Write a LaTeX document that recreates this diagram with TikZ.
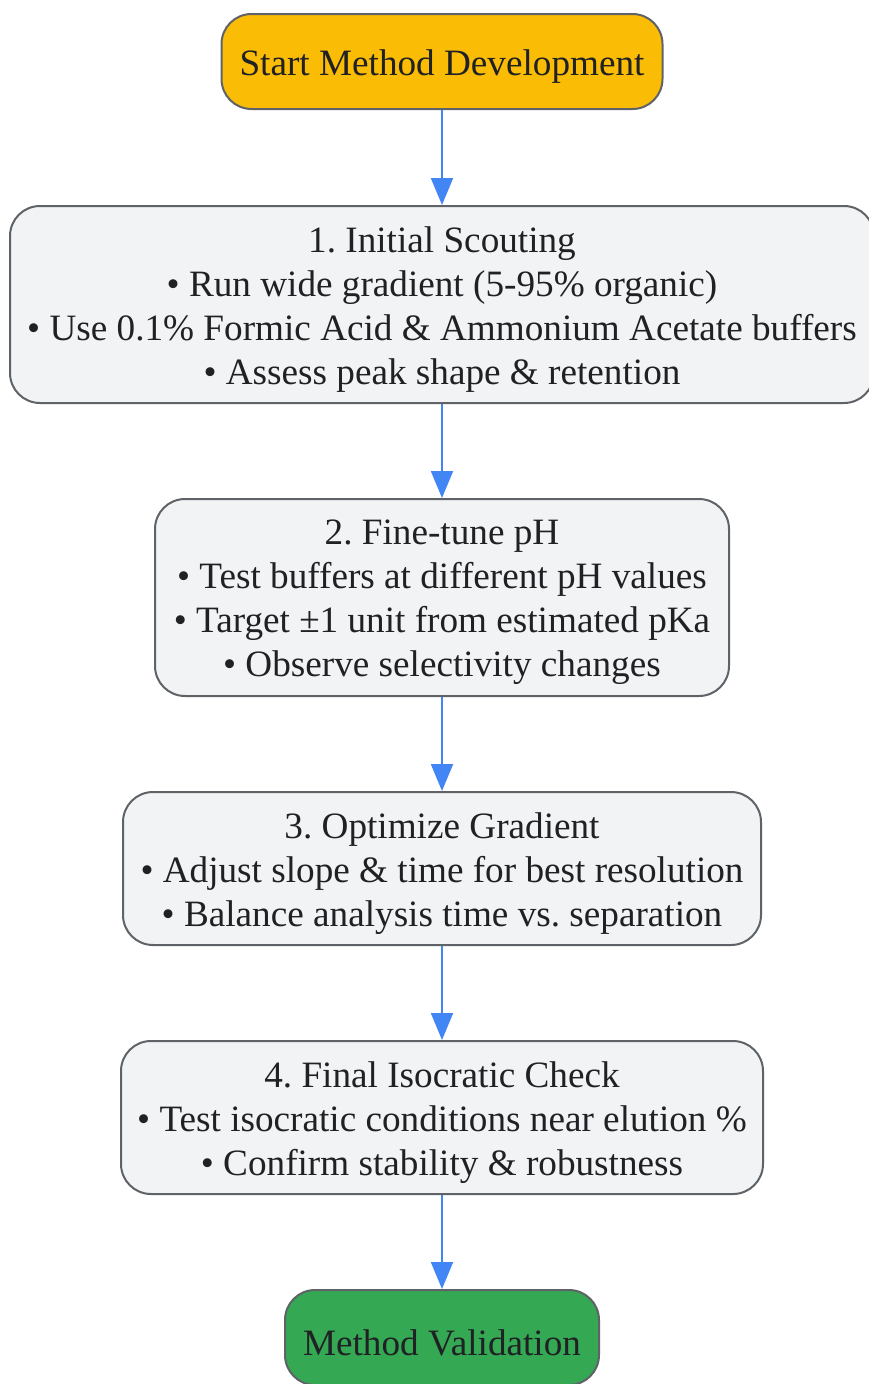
\documentclass[tikz,border=0pt]{standalone}
\usepackage{fontspec}
\setmainfont{Liberation Serif}
\usetikzlibrary{arrows.meta}
\definecolor{txt}{HTML}{202124}
\definecolor{bord}{HTML}{5F6368}
\definecolor{boxfill}{HTML}{F1F3F4}
\definecolor{startfill}{HTML}{FBBC05}
\definecolor{endfill}{HTML}{34A853}
\definecolor{arrowc}{HTML}{4285F4}
\begin{document}
\frenchspacing
\begin{tikzpicture}[x=1pt,y=1pt,
  base/.style={draw=bord, line width=2pt, rounded corners=30pt, inner sep=0pt},
  stepbox/.style={base, fill=boxfill},
  startbox/.style={base, fill=startfill},
  endbox/.style={base, fill=endfill},
  label text/.style={inner sep=0pt, align=center, text=txt,
    font=\fontsize{37.2}{44}\selectfont},
  conn/.style={draw=arrowc, line width=2pt, -{Triangle[length=27pt,width=22pt]}}]
\useasboundingbox (0,0) rectangle (869,-1384);
\node[startbox, minimum width=441pt, minimum height=95pt] (start) at (442,-61.5) {};
\node[stepbox, minimum width=864pt, minimum height=197pt] (s1) at (442,-304.5) {};
\node[stepbox, minimum width=574pt, minimum height=197pt] (s2) at (442,-597.5) {};
\node[stepbox, minimum width=638pt, minimum height=153pt] (s3) at (442,-868.5) {};
\node[stepbox, minimum width=642pt, minimum height=153pt] (s4) at (442,-1117.5) {};
\node[endbox, minimum width=314pt, minimum height=95pt] (end) at (442,-1337.5) {};
\node[label text] (startt) at ([yshift=-5pt]start.center) {Start Method Development};
\node[label text] (s1t) at ([yshift=-5pt]s1.center) {1. Initial Scouting\\
• Run wide gradient (5-95\% organic)\\
• Use 0.1\% Formic Acid \& Ammonium Acetate buffers\\
• Assess peak shape \& retention};
\node[label text] (s2t) at ([yshift=-5pt]s2.center) {2. Fine-tune pH\\
• Test buffers at different pH values\\
• Target ±1 unit from estimated pKa\\
• Observe selectivity changes};
\node[label text] (s3t) at ([yshift=-5pt]s3.center) {3. Optimize Gradient\\
• Adjust slope \& time for best resolution\\
• Balance analysis time vs. separation};
\node[label text] (s4t) at ([yshift=-5pt]s4.center) {4. Final Isocratic Check\\
• Test isocratic conditions near elution \%\\
• Confirm stability \& robustness};
\node[label text] (endt) at ([yshift=-5pt]end.center) {Method Validation};
\draw[conn] (start) -- (s1);
\draw[conn] (s1) -- (s2);
\draw[conn] (s2) -- (s3);
\draw[conn] (s3) -- (s4);
\draw[conn] (s4) -- (end);
\end{tikzpicture}
\end{document}
